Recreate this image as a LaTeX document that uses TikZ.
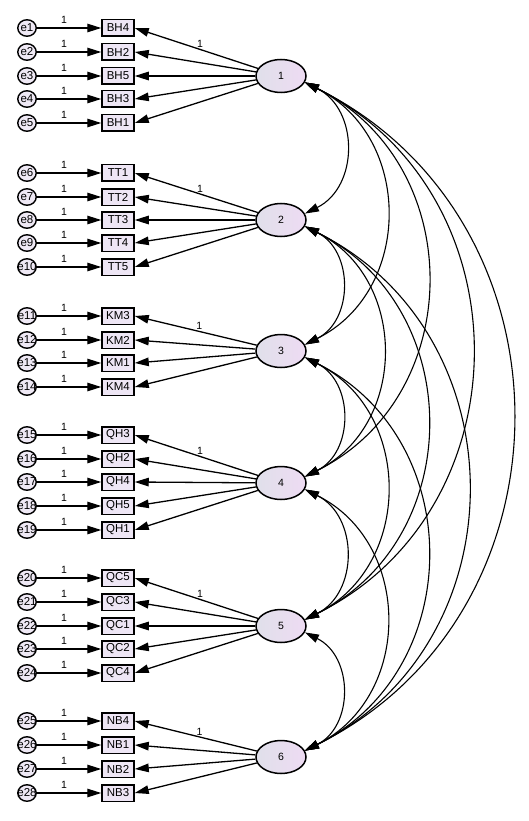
\documentclass[tikz,border=0pt]{standalone}
\usepackage{fontspec}
\setmainfont{Liberation Sans}
\usetikzlibrary{arrows.meta,positioning,shapes.geometric,calc}
\definecolor{ink}{HTML}{000000}
\definecolor{obsfill}{HTML}{EEE6F5}
\definecolor{errfill}{HTML}{EFE9F5}
\definecolor{latl}{HTML}{E0E0EA}
\definecolor{latr}{HTML}{EEDBF3}
\tikzset{
  >={Triangle[length=14pt,width=8.5pt]},
  every picture/.style={line width=1.3pt,draw=ink,font=\fontsize{11.5}{13}\selectfont},
  obs/.style={draw=ink,fill=obsfill,minimum width=32pt,minimum height=16.5pt,inner sep=0pt,line width=1.5pt},
  err/.style={ellipse,draw=ink,fill=errfill,minimum width=18.5pt,minimum height=16.5pt,inner sep=0pt,line width=1.4pt},
  lat/.style={ellipse,draw=ink,left color=latl,right color=latr,minimum width=50pt,minimum height=33pt,inner sep=0pt,line width=1.5pt,font=\fontsize{10.5}{12}\selectfont},
  arr/.style={->,draw=ink},
  cov/.style={<->,draw=ink,line width=1.1pt},
  one/.style={font=\fontsize{10.5}{12}\selectfont,inner sep=1pt,text=ink},
}
\begin{document}
\begin{tikzpicture}[x=1pt,y=1pt]
  \useasboundingbox (0,-821) rectangle (528,0);
  % factors
  \foreach \k/\y in {1/76,2/220,3/351,4/483,5/626,6/757}
    \node[lat] (f\k) at (281,-\y) {\k};
  % items, error terms, loadings
  \foreach \e/\v/\y/\k/\w in {1/BH4/28/1/1,2/BH2/52/1/0,3/BH5/76/1/0,4/BH3/99/1/0,5/BH1/123/1/0,
      6/TT1/173/2/1,7/TT2/197/2/0,8/TT3/220/2/0,9/TT4/243/2/0,10/TT5/267/2/0,
      11/KM3/316/3/1,12/KM2/340/3/0,13/KM1/363/3/0,14/KM4/387/3/0,
      15/QH3/435/4/1,16/QH2/459/4/0,17/QH4/482/4/0,18/QH5/506/4/0,19/QH1/530/4/0,
      20/QC5/578/5/1,21/QC3/602/5/0,22/QC1/626/5/0,23/QC2/649/5/0,24/QC4/673/5/0,
      25/NB4/721/6/1,26/NB1/745/6/0,27/NB2/769/6/0,28/NB3/793/6/0}{
    \node[obs] (\v) at (118,-\y) {\v};
    \node[err] (e\e) at (27,-\y) {\makebox[0pt]{e\e}};
    \draw[arr] (e\e) -- node[pos=0.42,above=3pt,one]{1} (\v.west);
    \ifnum\w=1
      \draw[arr] (f\k) -- node[pos=0.47,above,one]{1} (\v.east);
    \else
      \draw[arr] (f\k) -- (\v.east);
    \fi
  }
  % covariances
  \foreach \a/\b in {1/2,1/3,1/4,1/5,1/6,2/3,2/4,2/5,2/6,3/4,3/5,3/6,4/5,4/6,5/6}
    \draw[cov] let \p1=(f\a.-15), \p2=(f\b.15), \n1={veclen(\x2-\x1,\y2-\y1)} in
      (\p1) .. controls +(0.413*\n1,-0.205*\n1) and +(0.413*\n1,0.205*\n1) .. (\p2);
\end{tikzpicture}
\end{document}
